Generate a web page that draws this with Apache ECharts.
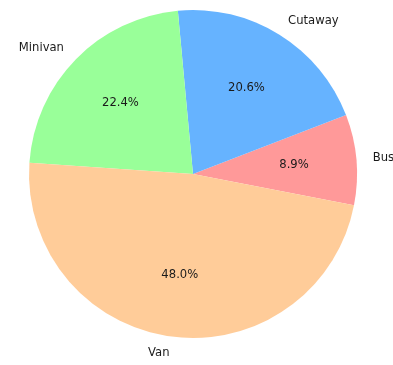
<!DOCTYPE html>
<html>
<head>
<meta charset="utf-8">
<script src="https://cdn.jsdelivr.net/npm/echarts@6/dist/echarts.min.js"></script>
<style>
  html, body { margin: 0; padding: 0; background: #fff; }
  #chart { width: 393px; height: 365px; }
</style>
</head>
<body>
<div id="chart"></div>
<script>
// vehicle types and their share (%)
var categories = ['Bus', 'Cutaway', 'Minivan', 'Van'];
var shares = [8.9, 20.6, 22.4, 48.0];
var colors = ['#ff9999', '#66b3ff', '#99ff99', '#ffcc99'];

var R = 164;
var center = [193, 174];

var pieData = categories.map(function (name, i) {
  return { name: name, value: shares[i], itemStyle: { color: colors[i] } };
});

var chart = echarts.init(document.getElementById('chart'));

var option = {
  backgroundColor: '#ffffff',
  animation: false,
  series: [
    {
      // the pie itself, names outside
      type: 'pie',
      center: center,
      radius: [0, R],
      startAngle: -11,
      clockwise: false,
      avoidLabelOverlap: false,
      silent: true,
      itemStyle: { borderWidth: 0 },
      label: {
        show: true,
        position: 'outside',
        formatter: '{b}',
        fontFamily: 'DejaVu Sans',
        fontSize: 11.6,
        color: '#1a1a1a',
        distanceToLabelLine: 0
      },
      labelLine: { show: false, length: 0.1 * R, length2: 0 },
      data: pieData
    },
    {
      // transparent ring, only to place the percentages at 0.6 R
      type: 'pie',
      center: center,
      radius: [0.2 * R, R],
      startAngle: -11,
      clockwise: false,
      silent: true,
      itemStyle: { color: 'rgba(0,0,0,0)', borderWidth: 0 },
      label: {
        show: true,
        position: 'inside',
        formatter: function (p) { return p.value.toFixed(1) + '%'; },
        fontFamily: 'DejaVu Sans',
        fontSize: 11.6,
        color: '#1a1a1a'
      },
      labelLine: { show: false },
      data: categories.map(function (name, i) {
        return { name: name, value: shares[i] };
      })
    }
  ]
};

chart.setOption(option);
</script>
</body>
</html>
